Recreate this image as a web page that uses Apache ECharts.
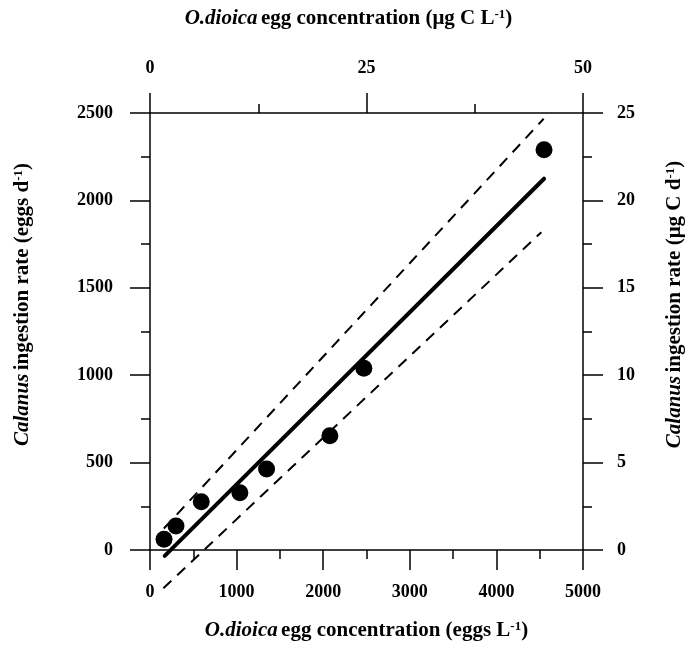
<!DOCTYPE html>
<html>
<head>
<meta charset="UTF-8">
<title>Calanus ingestion of O.dioica eggs</title>
<script src="https://cdn.jsdelivr.net/npm/echarts@6/dist/echarts.min.js"></script>
<style>
  html, body { margin: 0; padding: 0; background: #fff; }
  #chart { width: 693px; height: 648px; }
</style>
</head>
<body>
<div id="chart"></div>
<script>
// observed points: egg concentration (eggs L-1) vs ingestion rate (eggs d-1)
var eggConc = [162, 300, 592, 1038, 1346, 2077, 2469, 4550];
var ingestion = [61, 137, 276, 328, 464, 654, 1040, 2290];

// regression line and its confidence limits, as end points [x, y]
var fitLine = [[170, -34], [4550, 2124]];
var upperLimit = [[160, 123], [4546, 2467]];
var lowerLimit = [[154, -219], [4519, 1818]];

var FONT = '"Liberation Serif", "Times New Roman", serif';

var titleRich = {
  b: { fontFamily: FONT, fontWeight: 'bold', fontSize: 21, color: '#000' },
  i: { fontFamily: FONT, fontWeight: 'bold', fontStyle: 'italic', fontSize: 21, color: '#000' },
  sup: { fontFamily: FONT, fontWeight: 'bold', fontSize: 13, color: '#000', verticalAlign: 'top', lineHeight: 21 }
};

var lineStyleAxis = { color: '#000', width: 1.5 };
var labelStyle = {
  fontFamily: FONT, fontWeight: 'bold', fontSize: 18, color: '#000',
  formatter: function (v) { return String(v); }
};

var chart = echarts.init(document.getElementById('chart'));

var option = {
  animation: false,
  backgroundColor: '#fff',
  grid: { left: 150, right: 110, top: 113, bottom: 98 },
  xAxis: [
    {
      type: 'value', position: 'bottom', min: 0, max: 5000, interval: 1000,
      name: '{i|O.dioica} {b|egg concentration (eggs L}{sup|-1}{b|)}',
      nameLocation: 'middle', nameGap: 70,
      nameTextStyle: { rich: titleRich },
      axisLine: { onZero: false, lineStyle: lineStyleAxis },
      axisTick: { inside: false, length: 20, lineStyle: lineStyleAxis },
      minorTick: { show: true, splitNumber: 2, length: 9, lineStyle: lineStyleAxis },
      axisLabel: Object.assign({ margin: 33 }, labelStyle),
      splitLine: { show: false }
    },
    {
      type: 'value', position: 'top', min: 0, max: 50, interval: 25,
      name: '{i|O.dioica} {b|egg concentration (μg C L}{sup|-1}{b|)}',
      nameLocation: 'middle', nameGap: 84,
      nameTextStyle: { rich: titleRich, padding: [0, 36, 0, 0] },
      axisLine: { onZero: false, lineStyle: lineStyleAxis },
      axisTick: { inside: false, length: 20, lineStyle: lineStyleAxis },
      minorTick: { show: true, splitNumber: 2, length: 9, lineStyle: lineStyleAxis },
      axisLabel: Object.assign({ margin: 36 }, labelStyle),
      splitLine: { show: false }
    }
  ],
  yAxis: [
    {
      type: 'value', position: 'left', min: 0, max: 2500, interval: 500,
      name: '{i|Calanus} {b|ingestion rate (eggs d}{sup|-1}{b|)}',
      nameLocation: 'middle', nameGap: 117, nameRotate: 90,
      nameTextStyle: { rich: titleRich, padding: [0, 0, 0, 54] },
      axisLine: { onZero: false, lineStyle: lineStyleAxis },
      axisTick: { inside: false, length: 20, lineStyle: lineStyleAxis },
      minorTick: { show: true, splitNumber: 2, length: 9, lineStyle: lineStyleAxis },
      axisLabel: Object.assign({ margin: 37 }, labelStyle),
      splitLine: { show: false }
    },
    {
      type: 'value', position: 'right', min: 0, max: 25, interval: 5,
      name: '{i|Calanus} {b|ingestion rate (μg C d}{sup|-1}{b|)}',
      nameLocation: 'middle', nameGap: 81, nameRotate: 90,
      nameTextStyle: { rich: titleRich, padding: [0, 0, 0, 54] },
      axisLine: { onZero: false, lineStyle: lineStyleAxis },
      axisTick: { inside: false, length: 20, lineStyle: lineStyleAxis },
      minorTick: { show: true, splitNumber: 2, length: 9, lineStyle: lineStyleAxis },
      axisLabel: Object.assign({ margin: 34 }, labelStyle),
      splitLine: { show: false }
    }
  ],
  series: [
    {
      type: 'line', data: upperLimit, symbol: 'none', silent: true, clip: false,
      lineStyle: { color: '#000', width: 2, type: [11, 8] }
    },
    {
      type: 'line', data: lowerLimit, symbol: 'none', silent: true, clip: false,
      lineStyle: { color: '#000', width: 2, type: [11, 8] }
    },
    {
      type: 'line', data: fitLine, symbol: 'none', silent: true, clip: false,
      lineStyle: { color: '#000', width: 4, cap: 'round' }
    },
    {
      type: 'scatter', symbol: 'circle', symbolSize: 17, clip: false,
      itemStyle: { color: '#000', opacity: 1 },
      data: eggConc.map(function (x, i) { return [x, ingestion[i]]; })
    }
  ]
};

chart.setOption(option);
</script>
</body>
</html>
